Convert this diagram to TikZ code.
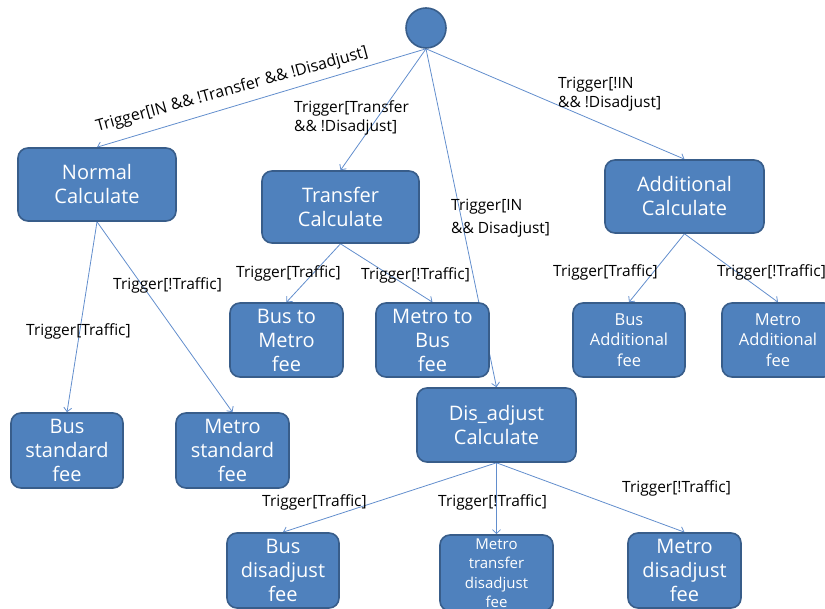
\documentclass[tikz,border=0pt]{standalone}
\usepackage{fontspec}
\setmainfont{Open Sans}
\usetikzlibrary{arrows.meta,backgrounds}
\definecolor{boxfill}{RGB}{79,129,189}
\definecolor{boxline}{RGB}{56,93,138}
\definecolor{edgeblue}{RGB}{98,142,205}
\tikzset{
  state/.style={draw=boxline, line width=1.6pt, fill=boxfill, rounded corners=10pt,
    text=white, align=center, inner sep=0pt},
  bigbox/.style={state, font=\fontsize{20}{24}\selectfont},
  feebox/.style={state, font=\fontsize{20}{24}\selectfont},
  smallbox/.style={state, font=\fontsize{16.5}{20.5}\selectfont},
  tinybox/.style={state, font=\fontsize{15}{19.5}\selectfont},
  trans/.style={draw=edgeblue, line width=0.8pt, -{Straight Barb[length=4pt,width=8pt]}},
  cond/.style={font=\fontsize{15.5}{19}\selectfont, inner sep=0pt, anchor=west, align=left},
}
\begin{document}
\begin{tikzpicture}[x=1pt,y=-1pt]
\useasboundingbox (0,0) rectangle (825,609);

% initial state
\node[circle, draw=boxline, line width=1.6pt, fill=boxfill, minimum size=40pt, inner sep=0pt] (start) at (426,28) {};

% calculation states
\node[bigbox, minimum width=158pt, minimum height=73pt] (normal) at (97,184.5) {Normal\\Calculate};
\node[bigbox, minimum width=157pt, minimum height=72pt] (transfer) at (340.5,207) {Transfer\\Calculate};
\node[bigbox, minimum width=159pt, minimum height=73pt] (additional) at (684.5,196.5) {Additional\\Calculate};
\node[bigbox, minimum width=159pt, minimum height=74pt] (disadjust) at (496.5,425) {Dis\_adjust\\Calculate};

% fee states
\node[feebox, minimum width=113pt, minimum height=74pt] (busmetro) at (286.5,340) {Bus to\\Metro\\fee};
\node[feebox, minimum width=113pt, minimum height=74pt] (metrobus) at (432.5,340) {Metro to\\Bus\\fee};
\node[smallbox, minimum width=112pt, minimum height=74pt] (busadd) at (629,340) {Bus\\Additional\\fee};
\node[smallbox, minimum width=112pt, minimum height=74pt] (metroadd) at (778,340) {Metro\\Additional\\fee};
\node[feebox, minimum width=112pt, minimum height=75pt] (busstd) at (67,450.5) {Bus\\standard\\fee};
\node[feebox, minimum width=113pt, minimum height=75pt] (metrostd) at (232.5,450.5) {Metro\\standard\\fee};
\node[feebox, minimum width=112pt, minimum height=75pt] (busdis) at (283,570.5) {Bus\\disadjust\\fee};
\node[tinybox, minimum width=113pt, minimum height=76pt] (metrotrdis) at (496.5,573) {Metro\\transfer\\disadjust\\fee};
\node[feebox, minimum width=113pt, minimum height=75pt] (metrodis) at (684.5,570.5) {Metro\\disadjust\\fee};

% transitions, drawn behind the states
\begin{scope}[on background layer]
\draw[trans] (start.south) -- (normal.north);
\draw[trans] (start.south) -- (transfer.north);
\draw[trans] (start.south) -- (disadjust.north);
\draw[trans] (start.south) -- (additional.north);
\draw[trans] (normal.south) -- (busstd.north);
\draw[trans] (normal.south) -- (metrostd.north);
\draw[trans] (transfer.south) -- (busmetro.north);
\draw[trans] (transfer.south) -- (metrobus.north);
\draw[trans] (additional.south) -- (busadd.north);
\draw[trans] (additional.south) -- (metroadd.north);
\draw[trans] (disadjust.south) -- (busdis.north);
\draw[trans] (disadjust.south) -- (metrotrdis.north);
\draw[trans] (disadjust.south) -- (metrodis.north);
\end{scope}

% guard conditions
\node[cond, anchor=center, rotate=15.5, font=\fontsize{16}{19}\selectfont] (g1) at (232,90) {Trigger[IN \&\& !Transfer \&\& !Disadjust]};
\node[cond] (g2) at (294,117.5) {Trigger[Transfer\\\&\& !Disadjust]};
\node[cond] (g3) at (558,94) {Trigger[!IN\\\&\& !Disadjust]};
\node[cond, font=\fontsize{15.5}{23}\selectfont] (g4) at (451,218.5) {Trigger[IN\\\&\& Disadjust]};
\node[cond] (g5) at (113,285) {Trigger[!Traffic]};
\node[cond] (g6) at (26,331) {Trigger[Traffic]};
\node[cond] (g7) at (236,273) {Trigger[Traffic]};
\node[cond] (g8) at (361,275) {Trigger[!Traffic]};
\node[cond] (g9) at (553,272) {Trigger[Traffic]};
\node[cond] (g10) at (717,272) {Trigger[!Traffic]};
\node[cond] (g11) at (262,502) {Trigger[Traffic]};
\node[cond] (g12) at (438,502) {Trigger[!Traffic]};
\node[cond] (g13) at (622,488) {Trigger[!Traffic]};
\end{tikzpicture}
\end{document}
